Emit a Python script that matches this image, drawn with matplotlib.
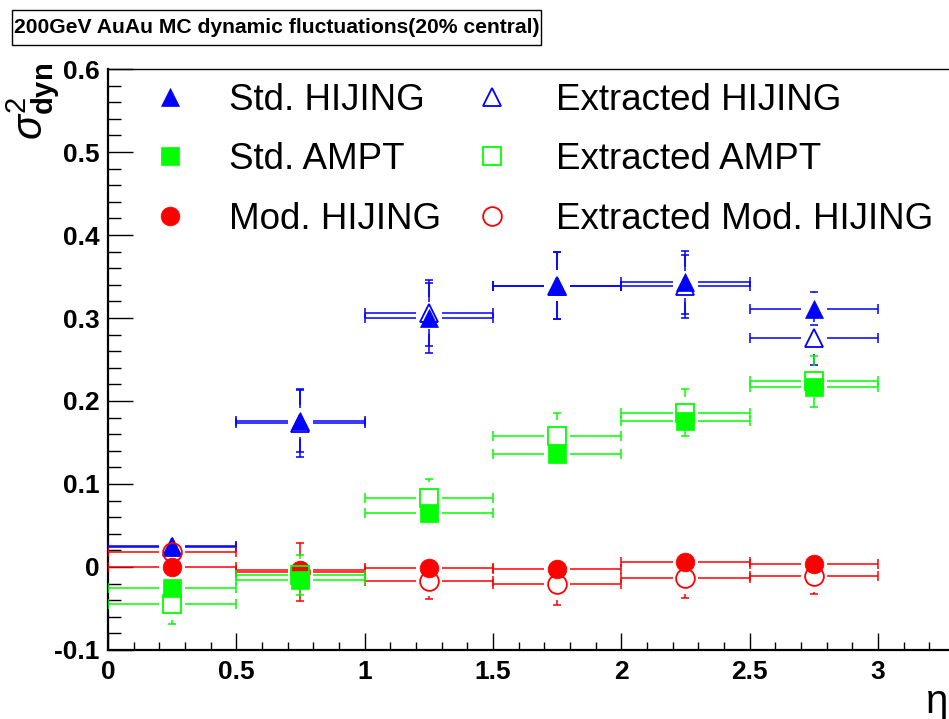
#!/usr/bin/env python3
"""
Dynamic fluctuations sigma^2_dyn vs eta window, 200GeV AuAu MC (20% central).
Standard vs extracted values for HIJING, AMPT and modified HIJING.
"""

import numpy as np
import matplotlib
matplotlib.use('Agg')
import matplotlib.pyplot as plt
from matplotlib.patches import Rectangle
from matplotlib.ticker import MultipleLocator, FuncFormatter

# eta bins (edges), points sit at the bin centres
ETA_EDGES = [0.0, 0.5, 1.0, 1.5, 2.0, 2.5, 3.0]

# Std. HIJING / Extracted HIJING
STD_HIJING = [0.025, 0.176, 0.300, 0.339, 0.343, 0.311]
STD_HIJING_ERR = [0.008, 0.038, 0.042, 0.040, 0.038, 0.020]
EXT_HIJING = [0.024, 0.173, 0.306, 0.339, 0.338, 0.276]
EXT_HIJING_ERR = [0.008, 0.040, 0.040, 0.040, 0.038, 0.033]

# Std. AMPT / Extracted AMPT
STD_AMPT = [-0.025, -0.0157, 0.065, 0.136, 0.176, 0.2165]
STD_AMPT_ERR = [0.010, 0.016, 0.010, 0.010, 0.018, 0.017]
EXT_AMPT = [-0.045, -0.0093, 0.083, 0.158, 0.186, 0.2237]
EXT_AMPT_ERR = [0.024, 0.024, 0.023, 0.027, 0.028, 0.031]

# Mod. HIJING / Extracted Mod. HIJING
MOD_HIJING = [0.000, -0.004, -0.001, -0.003, 0.0057, 0.003]
MOD_HIJING_ERR = [0.008, 0.008, 0.008, 0.008, 0.008, 0.008]
EXT_MOD = [0.018, -0.006, -0.0165, -0.021, -0.013, -0.011]
EXT_MOD_ERR = [0.010, 0.035, 0.0225, 0.025, 0.024, 0.0216]

TITLE = '200GeV AuAu MC dynamic fluctuations(20% central)'

BLUE = '#0000ff'
GREEN = '#00ff00'
RED = '#ff0000'

# ROOT-style error bars leave a gap round the marker
GAP_X = 0.05
GAP_Y = 0.019
LW = 1.1
MS = 13.5


def draw_errors(ax, edges, y, yerr, color, z):
    """horizontal bar over the bin + vertical error, both with end caps"""
    edges = np.asarray(edges)
    lo, hi = edges[:-1], edges[1:]
    x = 0.5 * (lo + hi)
    y = np.asarray(y)
    yerr = np.asarray(yerr)

    ax.hlines(y, lo, x - GAP_X, color=color, lw=LW, zorder=z)
    ax.hlines(y, x + GAP_X, hi, color=color, lw=LW, zorder=z)
    ax.plot(np.r_[lo, hi], np.r_[y, y], ls='none', marker='|', ms=7.5,
            mew=LW, color=color, zorder=z)

    big = yerr > GAP_Y
    if big.any():
        xb, yb, eb = x[big], y[big], yerr[big]
        ax.vlines(xb, yb + GAP_Y, yb + eb, color=color, lw=LW, zorder=z)
        ax.vlines(xb, yb - eb, yb - GAP_Y, color=color, lw=LW, zorder=z)
        ax.plot(np.r_[xb, xb], np.r_[yb + eb, yb - eb], ls='none',
                marker='_', ms=6, mew=LW, color=color, zorder=z)
    return x


def draw_series(ax, y, yerr, color, marker, filled, label, z):
    x = draw_errors(ax, ETA_EDGES, y, yerr, color, z)
    if filled:
        h, = ax.plot(x, y, ls='none', marker=marker, ms=MS, color=color,
                     mec=color, mew=0.5, zorder=z + 0.5, label=label)
    else:
        h, = ax.plot(x, y, ls='none', marker=marker, ms=MS, mfc='none',
                     mec=color, mew=1.3, zorder=z + 0.5, label=label)
    return h


def main():
    plt.rcParams['font.family'] = ['Liberation Sans', 'DejaVu Sans']
    plt.rcParams['axes.unicode_minus'] = False
    plt.rcParams['mathtext.fontset'] = 'custom'
    plt.rcParams['mathtext.rm'] = 'Liberation Sans'
    plt.rcParams['mathtext.bf'] = 'Liberation Sans:bold'
    plt.rcParams['mathtext.it'] = 'Liberation Sans:italic'

    fig = plt.figure(figsize=(9.49, 7.19), dpi=100)
    ax = fig.add_axes([0.1138, 0.0960, 0.8925, 0.8080])

    # draw order matters for overlapping markers (as in the original)
    h_std_hij = draw_series(ax, STD_HIJING, STD_HIJING_ERR, BLUE, '^', True,
                            'Std. HIJING', 2)
    h_ext_hij = draw_series(ax, EXT_HIJING, EXT_HIJING_ERR, BLUE, '^', False,
                            'Extracted HIJING', 3)
    h_mod = draw_series(ax, MOD_HIJING, MOD_HIJING_ERR, RED, 'o', True,
                        'Mod. HIJING', 4)
    h_ext_mod = draw_series(ax, EXT_MOD, EXT_MOD_ERR, RED, 'o', False,
                            'Extracted Mod. HIJING', 5)
    h_ampt = draw_series(ax, STD_AMPT, STD_AMPT_ERR, GREEN, 's', True,
                         'Std. AMPT', 6)
    h_ext_ampt = draw_series(ax, EXT_AMPT, EXT_AMPT_ERR, GREEN, 's', False,
                             'Extracted AMPT', 7)

    ax.set_xlim(0, 3.3)
    ax.set_ylim(-0.1, 0.6)

    # axes / ticks
    ax.xaxis.set_major_locator(MultipleLocator(0.5))
    ax.xaxis.set_minor_locator(MultipleLocator(0.1))
    ax.yaxis.set_major_locator(MultipleLocator(0.1))
    ax.yaxis.set_minor_locator(MultipleLocator(0.02))
    fmt = FuncFormatter(lambda v, p: '{:g}'.format(round(v, 3)))
    ax.xaxis.set_major_formatter(fmt)
    ax.yaxis.set_major_formatter(fmt)
    ax.tick_params(axis='both', which='both', direction='in', top=False,
                   right=False, width=1.0)
    ax.tick_params(axis='x', which='major', length=12, pad=7)
    ax.tick_params(axis='x', which='minor', length=6)
    ax.tick_params(axis='y', which='major', length=18, pad=6)
    ax.tick_params(axis='y', which='minor', length=9)
    for lab in ax.get_xticklabels() + ax.get_yticklabels():
        lab.set_fontsize(19)
        lab.set_fontweight('bold')
    ax.spines['left'].set_linewidth(1.6)
    ax.spines['bottom'].set_linewidth(1.6)
    ax.spines['top'].set_linewidth(1.0)

    ax.set_xlabel('η', fontsize=29, loc='right')
    ax.xaxis.set_label_coords(0.992, -0.056)
    ax.set_ylabel(r'$\sigma^{2}_{\mathbf{dyn}}$', fontsize=30, loc='top')
    ax.yaxis.set_label_coords(-0.054, 1.01)

    # legend: two columns placed separately
    leg_kw = dict(loc='upper left', frameon=False, fontsize=26.5,
                  handlelength=1.0, labelspacing=0.66, borderpad=0,
                  borderaxespad=0, numpoints=1)
    leg1 = ax.legend(handles=[h_std_hij, h_ampt, h_mod],
                     bbox_to_anchor=(0.052, 0.976), handletextpad=1.09,
                     **leg_kw)
    ax.add_artist(leg1)
    ax.legend(handles=[h_ext_hij, h_ext_ampt, h_ext_mod],
              bbox_to_anchor=(0.432, 0.976), handletextpad=1.22, **leg_kw)

    # title box
    fig.patches.append(Rectangle((0.01264, 0.9374), 0.5574, 0.0487,
                                 transform=fig.transFigure, fill=False,
                                 lw=1.0, ec='black'))
    fig.text(0.2914, 0.9618, TITLE, ha='center', va='center', fontsize=15.2,
             fontweight='bold')

    fig.savefig('out.png', dpi=100)


if __name__ == '__main__':
    main()
